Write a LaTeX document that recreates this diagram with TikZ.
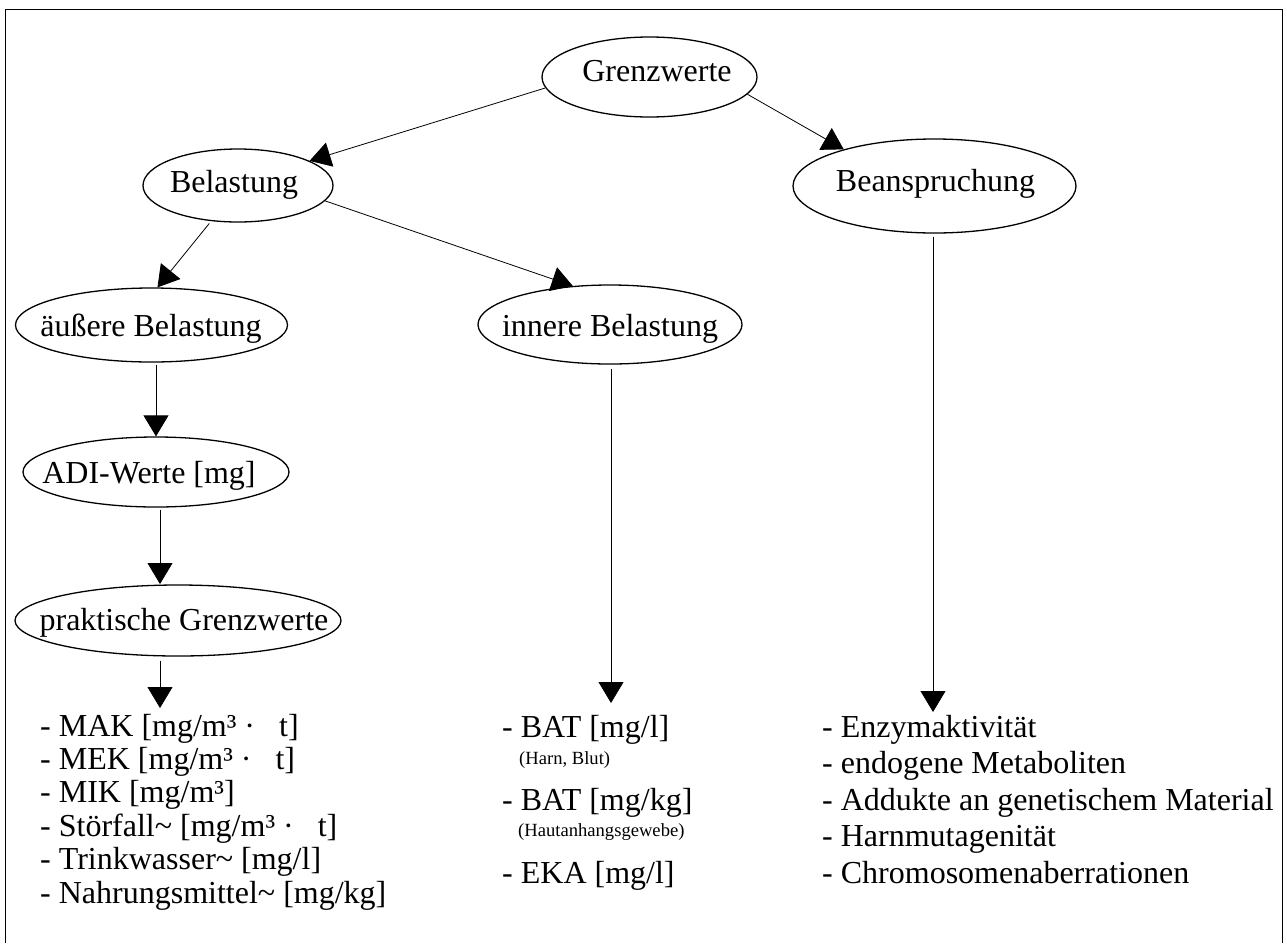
\documentclass[tikz,border=0pt]{standalone}
\usepackage{fontspec}
\setmainfont{Liberation Serif}
\usetikzlibrary{shapes.geometric,arrows.meta}
\begin{document}
\begin{tikzpicture}[x=1pt,y=-1pt,
  elli/.style={draw, ellipse, line width=1.3pt, inner sep=0pt},
  lbl/.style={anchor=base, inner sep=0pt, font=\fontsize{32}{38}\selectfont},
  item/.style={anchor=base west, inner sep=0pt, font=\fontsize{32}{38}\selectfont},
  note/.style={anchor=base west, inner sep=0pt, font=\fontsize{18.6}{22}\selectfont},
  conn/.style={line width=0.8pt, -{Triangle[length=21pt,width=25pt]}}]
\useasboundingbox (0,0) rectangle (1287,943);
\draw[line width=1pt] (5,943) -- (5,9) -- (1282,9) -- (1282,943);

% ellipses
\node[elli, minimum width=215pt, minimum height=80pt] (g)   at (649.5,77)  {};
\node[elli, minimum width=190pt, minimum height=73pt] (b)   at (238,185.5) {};
\node[elli, minimum width=283pt, minimum height=94pt] (bn)  at (934.5,186) {};
\node[elli, minimum width=272pt, minimum height=74pt] (a)   at (151.5,325) {};
\node[elli, minimum width=264pt, minimum height=79pt] (i)   at (610,324.5) {};
\node[elli, minimum width=266pt, minimum height=70pt] (adi) at (156,472)   {};
\node[elli, minimum width=326pt, minimum height=71pt] (p)   at (178,620.5) {};

% ellipse labels
\node[lbl] (gt)   at (657,81)    {Grenzwerte};
\node[lbl] (bt)   at (234,192)   {Belastung};
\node[lbl] (bnt)  at (935.5,191) {Beanspruchung};
\node[lbl] (at)   at (151,336)   {äußere Belastung};
\node[lbl] (it)   at (610,336)   {innere Belastung};
\node[lbl] (adit) at (149,483)   {ADI-Werte [mg]};
\node[lbl] (pt)   at (184,630)   {praktische Grenzwerte};

% left list
\node[item] (l1) at (40,736)   {- MAK [mg/m³ ·\hspace{0.75em}t]};
\node[item] (l2) at (40,769.4) {- MEK [mg/m³ ·\hspace{0.75em}t]};
\node[item] (l3) at (40,802.8) {- MIK [mg/m³]};
\node[item] (l4) at (40,836.2) {- Störfall\textasciitilde{} [mg/m³ ·\hspace{0.75em}t]};
\node[item] (l5) at (40,869.6) {- Trinkwasser\textasciitilde{} [mg/l]};
\node[item] (l6) at (40,903)   {- Nahrungsmittel\textasciitilde{} [mg/kg]};

% middle list
\node[item] (m1) at (502,737) {- BAT [mg/l]};
\node[note] (m1n) at (519,764) {(Harn, Blut)};
\node[item] (m2) at (502,810) {- BAT [mg/kg]};
\node[note] (m2n) at (518,836) {(Hautanhangsgewebe)};
\node[item] (m3) at (502,883) {- EKA [mg/l]};

% right list
\node[item] (r1) at (822,737)   {- Enzymaktivität};
\node[item] (r2) at (822,773.5) {- endogene Metaboliten};
\node[item] (r3) at (822,810)   {- Addukte an genetischem Material};
\node[item] (r4) at (822,846.5) {- Harnmutagenität};
\node[item] (r5) at (822,883)   {- Chromosomenaberrationen};

% connectors
\coordinate (tipP) at (160,584);
\coordinate (tipL) at (160,708);
\coordinate (tipM) at (611,703);
\coordinate (tipR) at (933,712);
\draw[conn] (g.186) -- (b.19);
\draw[conn] (g.350) -- (bn.158);
\draw[conn, shorten <=3pt] (b.233) -- (a.81);
\draw[conn] (b.350) -- (i.134);
\draw[conn, shorten <=2pt] (adi.north |- a.south) -- (adi.north);
\draw[conn, shorten <=2pt] (adi.south -| tipP) -- (tipP);
\draw[conn, shorten <=4pt] (p.south -| tipL) -- (tipL);
\draw[conn, shorten <=4pt] (i.south -| tipM) -- (tipM);
\draw[conn, shorten <=3pt] (bn.south -| tipR) -- (tipR);
\end{tikzpicture}
\end{document}
